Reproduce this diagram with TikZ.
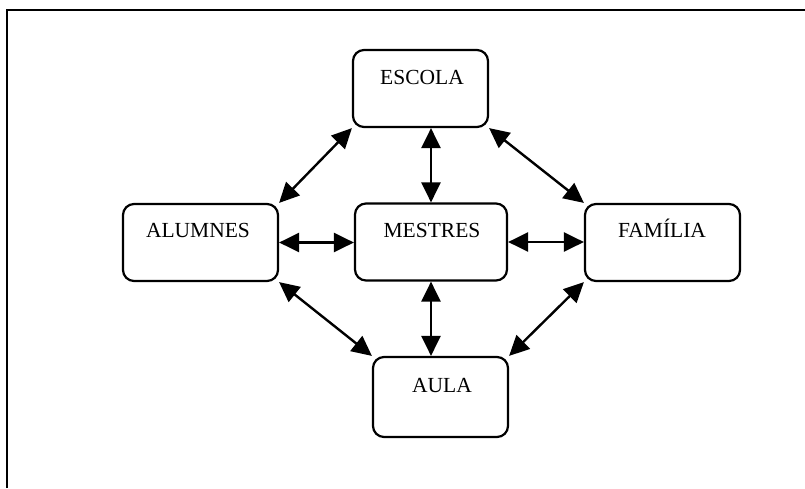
\documentclass[tikz,border=0pt]{standalone}
\usepackage{fontspec}
\setmainfont{Liberation Serif}
\usetikzlibrary{arrows.meta}
\begin{document}
\begin{tikzpicture}[x=1pt,y=-1pt,
  box/.style={draw=black,line width=2.2pt,rounded corners=11pt,inner sep=0pt},
  lbl/.style={anchor=base,inner sep=0pt,font=\fontsize{21.5}{25}\selectfont},
  biarrow/.style={line width=2.4pt,{Triangle[length=20pt,width=19pt]}-{Triangle[length=20pt,width=19pt]}},
  frame/.style={line width=2.4pt}]
\useasboundingbox (0,0) rectangle (805,488);
% outer frame (only top and left edges are visible)
\coordinate (ftl) at (7,10);
\coordinate (ftr) at (805,10);
\coordinate (fbl) at (7,488);
\draw[frame] (fbl) -- (ftl) -- (ftr);
% boxes
\node[box,minimum width=135pt,minimum height=77pt] (escola) at (420.5,88.5) {};
\node[box,minimum width=155pt,minimum height=77pt] (alumnes) at (200.5,242.5) {};
\node[box,minimum width=152pt,minimum height=77pt] (mestres) at (431,242) {};
\node[box,minimum width=155pt,minimum height=77pt] (familia) at (662.5,242.5) {};
\node[box,minimum width=135pt,minimum height=80pt] (aula) at (440.5,397) {};
% labels
\node[lbl] (tescola) at (422,84) {ESCOLA};
\node[lbl] (talumnes) at (198,237) {ALUMNES};
\node[lbl] (tmestres) at (432,237) {MESTRES};
\node[lbl] (tfamilia) at (662,237) {FAMÍLIA};
\node[lbl] (taula) at (442,392) {AULA};
% connectors
\draw[biarrow] (mestres.north) -- (mestres.north |- escola.south);
\draw[biarrow] (mestres.south) -- (mestres.south |- aula.north);
\draw[biarrow] (alumnes.east) -- (alumnes.east -| mestres.west);
\draw[biarrow] (mestres.east) -- (mestres.east -| familia.west);
\draw[biarrow] (escola.south west) -- (alumnes.north east);
\draw[biarrow] (escola.south east) -- (familia.north west);
\draw[biarrow] (alumnes.south east) -- (aula.north west);
\draw[biarrow] (familia.south west) -- (aula.north east);
\end{tikzpicture}
\end{document}
